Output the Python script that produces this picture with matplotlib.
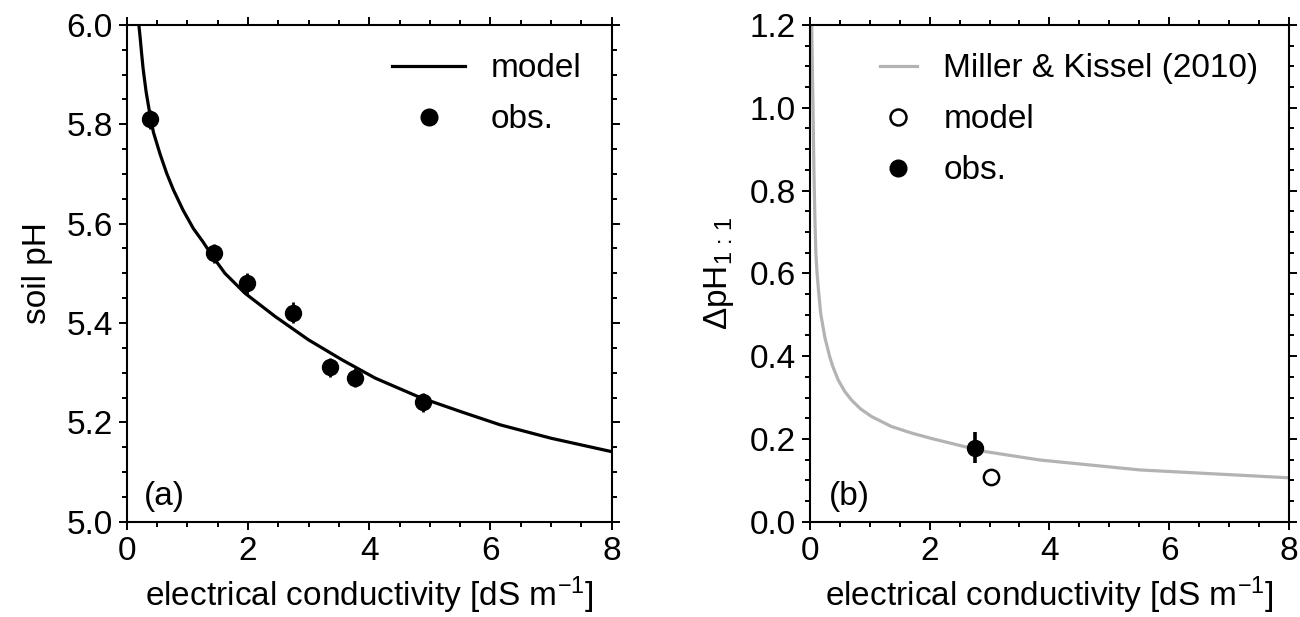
import matplotlib
matplotlib.use("Agg")
import matplotlib.pyplot as plt
from matplotlib.ticker import MultipleLocator
from matplotlib.lines import Line2D

# ---- data ----
# panel (a)
model_a_x = [0.20, 0.22, 0.245, 0.27, 0.32, 0.385, 0.44, 0.55, 0.66, 0.77, 0.93,
             1.10, 1.26, 1.40, 1.62, 1.95, 2.45, 3.00, 3.55, 4.10, 4.84, 5.50,
             6.16, 7.00, 8.00]
model_a_y = [6.00, 5.976, 5.943, 5.912, 5.865, 5.818, 5.784, 5.740, 5.701, 5.668,
             5.627, 5.590, 5.563, 5.537, 5.500, 5.460, 5.413, 5.366, 5.326,
             5.289, 5.250, 5.222, 5.195, 5.168, 5.141]
obs_a_x = [0.38, 1.44, 1.98, 2.75, 3.35, 3.77, 4.88]
obs_a_y = [5.810, 5.540, 5.480, 5.421, 5.311, 5.290, 5.240]
obs_a_err = [0.019, 0.019, 0.021, 0.021, 0.019, 0.019, 0.020]

# panel (b)
mk_x = [0.03, 0.045, 0.055, 0.067, 0.084, 0.10, 0.12, 0.14, 0.18, 0.25, 0.33,
        0.38, 0.47, 0.58, 0.70, 0.85, 1.03, 1.36, 1.70, 2.03, 2.90, 3.84,
        5.51, 8.00]
mk_y = [1.20, 1.06, 0.971, 0.85, 0.729, 0.648, 0.600, 0.565, 0.503, 0.445,
        0.399, 0.376, 0.343, 0.315, 0.293, 0.272, 0.254, 0.230, 0.214, 0.201,
        0.170, 0.149, 0.125, 0.106]
model_b_x = [3.02]
model_b_y = [0.109]
obs_b_x = [2.76]
obs_b_y = [0.179]
obs_b_err = [0.038]

# ---- style ----
plt.rcParams['font.family'] = ['Liberation Sans', 'DejaVu Sans']
plt.rcParams['mathtext.fontset'] = 'custom'
plt.rcParams['mathtext.rm'] = 'Liberation Sans'
plt.rcParams['mathtext.it'] = 'Liberation Sans:italic'
plt.rcParams['mathtext.bf'] = 'Liberation Sans:bold'
plt.rcParams['axes.unicode_minus'] = True
FS = 24

fig = plt.figure(figsize=(13, 6.17), dpi=100)
ax1 = fig.add_axes([0.0975, 0.1545, 0.373, 0.805])
ax2 = fig.add_axes([0.623, 0.1545, 0.3685, 0.805])

for ax in (ax1, ax2):
    for s in ax.spines.values():
        s.set_linewidth(1.5)
    ax.tick_params(which='both', direction='out', top=True, right=True,
                   labelsize=FS, width=1.4)
    ax.tick_params(which='major', length=6, pad=4)
    ax.tick_params(which='minor', length=3.5)
    ax.xaxis.set_major_locator(MultipleLocator(2))
    ax.xaxis.set_minor_locator(MultipleLocator(0.5))
    ax.set_xlim(0, 8)
    ax.set_xlabel('electrical conductivity [dS m$^{-1}$]', fontsize=FS, labelpad=6)

# panel (a)
ax1.plot(model_a_x, model_a_y, color='black', lw=2.3, zorder=2,
         solid_joinstyle='round')
ax1.errorbar(obs_a_x, obs_a_y, yerr=obs_a_err, fmt='none', ecolor='black',
             elinewidth=2, capsize=0, zorder=3)
ax1.plot(obs_a_x, obs_a_y, 'o', color='black', ms=11.5, zorder=4)
ax1.set_ylim(5.0, 6.0)
ax1.yaxis.set_major_locator(MultipleLocator(0.2))
ax1.yaxis.set_minor_locator(MultipleLocator(0.05))
ax1.yaxis.set_major_formatter(plt.FormatStrFormatter('%.1f'))
ax1.set_ylabel('soil pH', fontsize=FS, labelpad=10)
ax1.text(0.035, 0.02, '(a)', transform=ax1.transAxes, fontsize=FS,
         ha='left', va='bottom')
h1 = [Line2D([], [], color='black', lw=2.3),
      Line2D([], [], ls='none', marker='o', color='black', ms=12)]
ax1.legend(h1, ['model', 'obs.'], loc='upper right', frameon=False, fontsize=FS,
           handlelength=2.2, handletextpad=0.75, labelspacing=0.6,
           bbox_to_anchor=(0.985, 0.99), borderaxespad=0.3)

# panel (b)
ax2.plot(mk_x, mk_y, color='#b3b3b3', lw=2.3, zorder=2, solid_joinstyle='round')
ax2.plot(model_b_x, model_b_y, 'o', ms=11, mfc='white', mec='black', mew=1.8,
         zorder=3)
ax2.errorbar(obs_b_x, obs_b_y, yerr=obs_b_err, fmt='none', ecolor='black',
             elinewidth=2.6, capsize=0, zorder=4)
ax2.plot(obs_b_x, obs_b_y, 'o', color='black', ms=11.5, zorder=5)
ax2.set_ylim(0, 1.2)
ax2.yaxis.set_major_locator(MultipleLocator(0.2))
ax2.yaxis.set_minor_locator(MultipleLocator(0.05))
ax2.yaxis.set_major_formatter(plt.FormatStrFormatter('%.1f'))
ax2.set_ylabel(r'$\Delta$pH$_{1\,:\,1}$', fontsize=FS, labelpad=10)
ax2.text(0.04, 0.02, '(b)', transform=ax2.transAxes, fontsize=FS,
         ha='left', va='bottom')
h2 = [Line2D([], [], color='#b3b3b3', lw=2.3),
      Line2D([], [], ls='none', marker='o', ms=11.5, mfc='white', mec='black', mew=1.8),
      Line2D([], [], ls='none', marker='o', color='black', ms=12)]
ax2.legend(h2, ['Miller & Kissel (2010)', 'model', 'obs.'], loc='upper right',
           frameon=False, fontsize=FS, handlelength=1.1, handletextpad=0.8,
           labelspacing=0.6, bbox_to_anchor=(0.985, 0.99), borderaxespad=0.3)

fig.savefig('out.png', dpi=100)
